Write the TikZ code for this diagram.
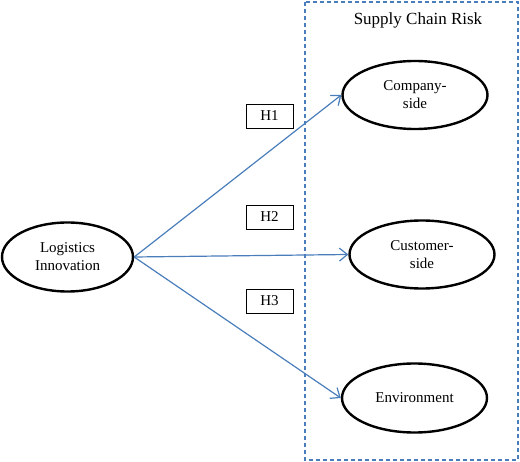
\documentclass[tikz,border=0pt]{standalone}
\usepackage{fontspec}
\setmainfont{Liberation Serif}
\usetikzlibrary{shapes.geometric,arrows.meta,positioning}
\definecolor{lineblue}{RGB}{74,126,187}
\begin{document}
\begin{tikzpicture}[x=1pt,y=-1pt,
        construct/.style={ellipse,draw,line width=2.4pt,inner sep=0pt,minimum width=145pt,minimum height=68pt,align=center,font=\fontsize{15}{18}\selectfont},
        hyp/.style={draw,line width=0.8pt,minimum width=47pt,minimum height=24pt,inner sep=0pt,font=\fontsize{15}{18}\selectfont},
        path/.style={draw=lineblue,line width=1.2pt,-{Straight Barb[length=8pt,width=13pt]}}]
        \useasboundingbox (0,0) rectangle (520,462);
        \def\bx{305}
        \def\by{2}
        % dashed frame of the risk constructs
        \draw[lineblue,line width=1.2pt,dash pattern=on 4pt off 3pt] (\bx,\by) rectangle (518,460);
        \node[font=\fontsize{17}{20}\selectfont] (risk) at (418,20) {Supply Chain Risk};
        \node[construct,minimum width=131pt,minimum height=69pt] (li) at (67.5,257) {Logistics\\Innovation};
        \node[construct] (comp) at (415,95) {Company-\\side};
        \node[construct] (cust) at (422,254.5) {Customer-\\side};
        \node[construct,minimum height=69pt] (env) at (414.5,398) {Environment};
        \node[hyp] (h1) at (269.5,116) {H1};
        \node[hyp] (h2) at (269.5,217) {H2};
        \node[hyp] (h3) at (269.5,301) {H3};
        \draw[path] (li.east) -- (comp.west);
        \draw[path] (li.east) -- (cust.west);
        \draw[path] (li.east) -- (env.west);
\end{tikzpicture}
\end{document}
